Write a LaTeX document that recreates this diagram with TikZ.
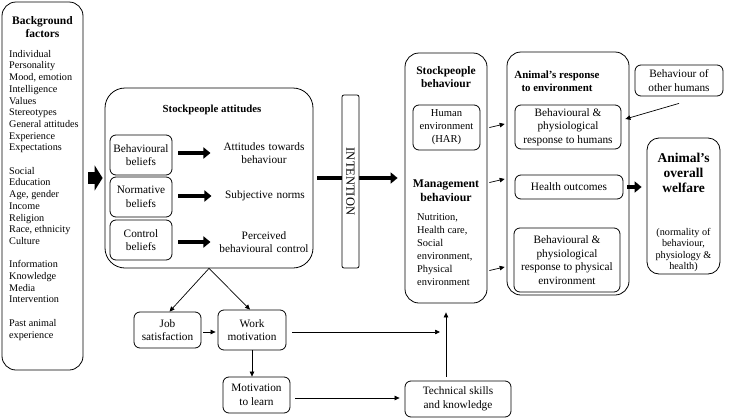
\documentclass[tikz,border=0pt]{standalone}
\usepackage{fontspec}
\setmainfont{Liberation Serif}
\usetikzlibrary{arrows.meta}

\begin{document}
\begin{tikzpicture}[x=1pt,y=-1pt,
  font=\fontsize{11.3}{13.5}\selectfont,
  bigbox/.style={draw,line width=0.8pt,rounded corners=14pt},
  smallbox/.style={draw,line width=0.8pt,rounded corners=6pt,align=center,inner sep=1pt},
  boldtitle/.style={font=\bfseries\fontsize{11.5}{13.5}\selectfont,align=center},
  fatarrow/.style={line width=4pt,-{Triangle[length=7pt,width=11pt]}},
  thinarrow/.style={line width=0.7pt,-{Triangle[length=5pt,width=4.5pt]}}]
\useasboundingbox (0,0) rectangle (729,418);

% background factors
\node[bigbox,minimum width=81pt,minimum height=368pt] (bg) at (42.5,186) {};
\node[boldtitle] (bgtitle) at (42.5,27) {Background\\factors};
\node[anchor=north west,align=left,inner sep=0pt,font=\fontsize{10.2}{11.7}\selectfont] (bglist) at (9,50)
  {Individual\\Personality\\Mood, emotion\\Intelligence\\Values\\Stereotypes\\General attitudes\\Experience\\Expectations\\[11.7pt]
   Social\\Education\\Age, gender\\Income\\Religion\\Race, ethnicity\\Culture\\[11.7pt]
   Information\\Knowledge\\Media\\Intervention\\[11.7pt]
   Past animal\\experience};

% stockpeople attitudes
\node[bigbox,rounded corners=20pt,minimum width=208pt,minimum height=180pt] (att) at (209,178) {};
\node[boldtitle,font=\bfseries\fontsize{10.8}{12}\selectfont] (atttitle) at (212,110) {Stockpeople attitudes};
\node[smallbox,minimum width=62pt,minimum height=40pt] (bbel) at (141,155) {Behavioural\\beliefs};
\node[smallbox,minimum width=62pt,minimum height=40pt] (nbel) at (141,197) {Normative\\beliefs};
\node[smallbox,minimum width=62pt,minimum height=40pt] (cbel) at (141,240) {Control\\beliefs};
\node[text width=94pt,align=center] (atb) at (264,153) {Attitudes towards\\behaviour};
\node[text width=94pt,align=center] (subj) at (265,196) {Subjective norms};
\node[text width=94pt,align=center] (pbc) at (264,242) {Perceived\\behavioural control};

\draw[fatarrow,shorten <=6pt,shorten >=3pt] (bbel.east |- atb) -- (atb.west);
\draw[fatarrow,shorten <=6pt,shorten >=3pt] (nbel.east |- subj) -- (subj.west);
\draw[fatarrow,shorten <=6pt,shorten >=3pt] (cbel.east |- pbc) -- (pbc.west);

% big arrow from background factors
\draw[line width=12pt,-{Triangle[length=8pt,width=25pt]},shorten <=5pt,shorten >=2pt] (bg.east |- att.west) -- (att.west);

% stockpeople behaviour
\node[bigbox,minimum width=82pt,minimum height=250pt] (spbeh) at (446,178) {};
\node[boldtitle] (spbtitle) at (446,77) {Stockpeople\\behaviour};
\node[smallbox,minimum width=67pt,minimum height=45pt,font=\fontsize{10.6}{13}\selectfont] (har) at (446.5,127.5) {Human\\environment\\(HAR)};
\node[boldtitle,font=\bfseries\fontsize{11.8}{14}\selectfont] (mgmt) at (446,191) {Management\\behaviour};
\node[anchor=north west,align=left,inner sep=0pt,font=\fontsize{10.4}{13}\selectfont] (mgmtlist) at (417,213)
  {Nutrition,\\Health care,\\Social\\environment,\\Physical\\environment};

% intention
\draw[fatarrow,shorten <=4pt,shorten >=7pt] (att.east) -- (spbeh.west);
\node[draw,line width=0.8pt,rounded corners=2pt,fill=white,rotate=-90,minimum width=173pt,minimum height=17pt,inner sep=0pt,font=\fontsize{12.5}{13}\selectfont] (intent) at (350.5,181.5) {INTENTION};

% animal's response to environment
\node[bigbox,minimum width=122pt,minimum height=243pt] (resp) at (568,173.5) {};
\node[boldtitle,font=\bfseries\fontsize{10.9}{13}\selectfont] (resptitle) at (557,81) {Animal’s response\\to environment};
\node[smallbox,minimum width=106pt,minimum height=44pt] (hresp) at (568,127) {Behavioural \&\\physiological\\response to humans};
\node[smallbox,minimum width=108pt,minimum height=24pt] (health) at (569,187) {Health outcomes};
\node[smallbox,minimum width=106pt,minimum height=64pt] (presp) at (567,260) {Behavioural \&\\physiological\\response to physical\\environment};

\draw[thinarrow,shorten <=2pt,shorten >=2pt] ([yshift=50pt]spbeh.east) -- ([yshift=50pt]resp.west);
\draw[thinarrow,shorten <=2pt,shorten >=2pt] ([yshift=-5pt]spbeh.east) -- ([yshift=-5pt]resp.west);
\draw[thinarrow,shorten <=2pt,shorten >=2pt] ([yshift=-93pt]spbeh.east) -- ([yshift=-93pt]resp.west);

% other humans
\node[smallbox,minimum width=88pt,minimum height=31pt] (others) at (679,80.5) {Behaviour of\\other humans};
\draw[thinarrow] ([yshift=-7pt]others.south) -- ([xshift=4pt,yshift=8pt]hresp.east);

% overall welfare
\node[bigbox,rounded corners=12pt,minimum width=73pt,minimum height=136pt] (welfare) at (683.5,206) {};
\node[boldtitle,font=\bfseries\fontsize{13.5}{15}\selectfont] (weltitle) at (683.5,173) {Animal’s\\overall\\welfare};
\node[align=center,font=\fontsize{10.2}{11.5}\selectfont] (welnote) at (683.5,250) {(normality of\\behaviour,\\physiology \&\\health)};
\draw[fatarrow,shorten <=-2pt,shorten >=5pt] (resp.east |- health) -- (welfare.west |- health);

% bottom row
\node[smallbox,minimum width=67pt,minimum height=36pt] (job) at (167.5,330) {Job\\satisfaction};
\node[smallbox,minimum width=68pt,minimum height=40pt] (work) at (252,330) {Work\\motivation};
\node[smallbox,minimum width=67pt,minimum height=36pt] (learn) at (256.5,395) {Motivation\\to learn};
\node[smallbox,minimum width=106pt,minimum height=36pt] (tech) at (458,399) {Technical skills\\and knowledge};
\coordinate (workend) at (440,332);

\draw[thinarrow] (att.south) -- ([xshift=2pt]job.north);
\draw[thinarrow] (att.south) -- ([xshift=-2pt]work.north);
\draw[thinarrow,shorten <=2pt,shorten >=2pt] (job.east |- workend) -- (work.west |- workend);
\draw[thinarrow,shorten <=6pt] (work.east |- workend) -- (workend);
\draw[thinarrow] (work.south) -- (work.south |- learn.north);
\draw[thinarrow,shorten <=5pt,shorten >=5pt] (learn.east |- 0,398) -- (tech.west |- 0,398);
\draw[thinarrow,shorten <=4pt,shorten >=9pt] (tech.north -| spbeh.south) -- (spbeh.south);
\end{tikzpicture}
\end{document}
